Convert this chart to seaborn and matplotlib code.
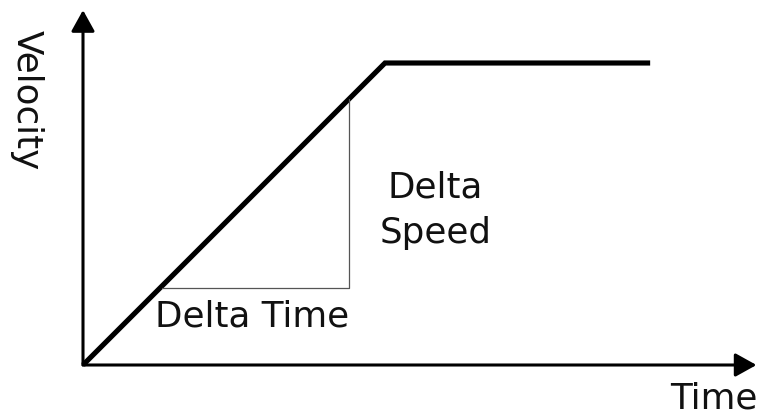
import matplotlib
matplotlib.use("Agg")
import matplotlib.pyplot as plt
import pandas as pd
import seaborn as sns

# velocity profile: ramp up, then constant
time = [0, 10, 18.78]
velocity = [0, 10, 10]

# small delta triangle under the ramp
delta_time = [2.6, 8.8, 8.8]
delta_vel = [2.55, 2.55, 8.8]

x_label = "Time"
y_label = "Velocity"
dt_label = "Delta Time"
dv_label = ["Delta", "Speed"]

sns.set_theme(style="white")
plt.rcParams["font.family"] = ["DejaVu Sans"]

fig = plt.figure(figsize=(7.59, 4.18), dpi=100)
ax = fig.add_axes([0, 0, 1, 1])

px = 30.2  # pixels per data unit
ax.set_xlim(-83 / px, 676 / px)
ax.set_ylim(-53 / px, 365 / px)
ax.set_axis_off()

profile = pd.DataFrame({"time": time, "velocity": velocity})
sns.lineplot(data=profile, x="time", y="velocity", sort=False, estimator=None,
             color="black", lw=3.7, solid_capstyle="butt",
             solid_joinstyle="miter", ax=ax)

tri = pd.DataFrame({"time": delta_time, "velocity": delta_vel})
sns.lineplot(data=tri, x="time", y="velocity", sort=False, estimator=None,
             color="#555555", lw=0.9, ax=ax)

arrow = dict(arrowstyle="-|>,head_length=0.36,head_width=0.2", lw=2.2,
             color="black", mutation_scale=36, shrinkA=0, shrinkB=0)
ax.annotate("", xy=(22.3, 0), xytext=(0, 0), arrowprops=arrow)
ax.annotate("", xy=(0, 11.75), xytext=(0, 0), arrowprops=arrow)

fs = 25.7
tc = "#111111"
ax.text(2.38, 1.26, dt_label, fontsize=fs, ha="left", va="baseline", color=tc)
ax.text(11.66, 5.53, dv_label[0], fontsize=fs, ha="center", va="baseline", color=tc)
ax.text(11.66, 4.04, dv_label[1], fontsize=fs, ha="center", va="baseline", color=tc)
ax.text(-1.85, 8.77, y_label, fontsize=fs, rotation=-90, ha="center", va="center",
        color=tc)
ax.text(19.45, -1.44, x_label, fontsize=fs, ha="left", va="baseline", color=tc,
        clip_on=False)

fig.savefig("out.png", dpi=100)
